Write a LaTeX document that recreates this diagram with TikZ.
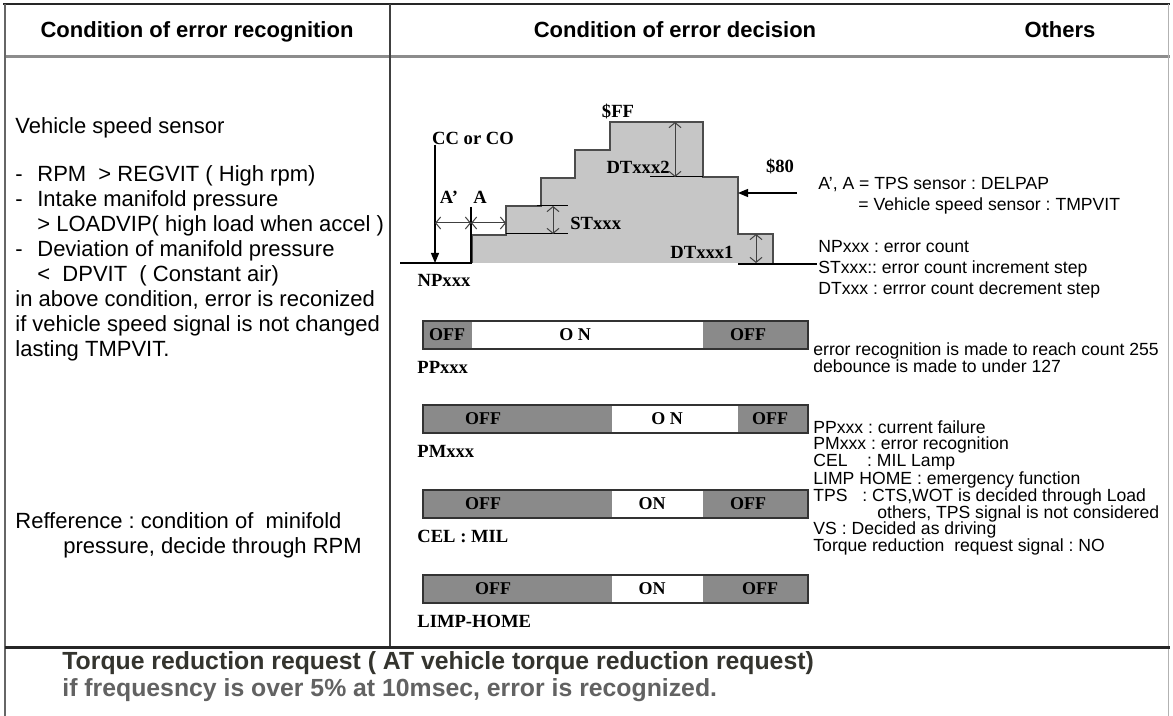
\documentclass[tikz,border=0pt]{standalone}
\usepackage{fontspec}
\setmainfont{Liberation Serif}
\setsansfont{Liberation Sans}
\usepackage{tikz}
\usetikzlibrary{arrows.meta}
\definecolor{BarGray}{RGB}{138,138,138}
\definecolor{StepGray}{RGB}{198,198,198}
\definecolor{FootDark}{RGB}{52,52,46}
\definecolor{FootGray}{RGB}{98,98,98}
\frenchspacing

\tikzset{
  head/.style={inner sep=0pt, text height=1.4ex, text depth=0pt,
    font=\sffamily\bfseries\fontsize{11}{13}\selectfont},
  lefttxt/.style={anchor=west, inner sep=0pt, text height=1.4ex, text depth=0pt,
    font=\sffamily\fontsize{11}{13}\selectfont},
  note/.style={anchor=west, inner sep=0pt, text height=1.4ex, text depth=0pt,
    font=\sffamily\fontsize{8.8}{10}\selectfont},
  foot/.style={anchor=west, inner sep=0pt, text height=1.4ex, text depth=0pt,
    font=\sffamily\bfseries\fontsize{12.4}{14}\selectfont},
  lab/.style={inner sep=0pt, font=\rmfamily\bfseries\fontsize{9.3}{11}\selectfont},
  bartxt/.style={inner sep=0pt, font=\rmfamily\bfseries\fontsize{9}{11}\selectfont},
  barline/.style={draw=black!80, line width=0.8pt},
  stepline/.style={draw=black!70, line width=0.7pt},
  dimline/.style={draw=black!75, line width=0.5pt,
    {Straight Barb[length=2.5pt,width=6pt]}-{Straight Barb[length=2.5pt,width=6pt]}},
  sigarrow/.style={draw=black, line width=0.6pt, -{Triangle[length=5pt,width=4pt]}},
}

\begin{document}
\begin{tikzpicture}[x=0.5pt,y=-0.5pt]
  \useasboundingbox (0,0) rectangle (1173,716);
  \fill[white] (0,0) rectangle (1173,716);

  % table frame
  \draw[line width=1.25pt, black!85] (3,4) -- (1170,4);
  \draw[line width=1.5pt, black!45] (5,57) -- (1170,57);
  \draw[line width=1.25pt, black!60] (5,4) -- (5,716);
  \draw[line width=0.5pt, black!30] (1168,4) -- (1168,716);
  \draw[line width=1pt, black!75] (390,4) -- (390,647);
  \draw[line width=1.5pt, black!85] (5,647) -- (1170,647);

  \node[head] (hRecog) at (197,31) {Condition of error recognition};
  \node[head] (hDecis) at (675,31) {Condition of error decision};
  \node[head] (hOther) at (1060,31) {Others};

  % left column
  \node[lefttxt] (vss) at (15,127) {Vehicle speed sensor};
  \foreach \y/\t [count=\k] in {
      175/{\makebox[11pt][l]{-}RPM \ > REGVIT ( High rpm)},
      200/{\makebox[11pt][l]{-}Intake manifold pressure},
      225/{\hspace*{11pt}> LOADVIP( high load when accel )},
      250/{\makebox[11pt][l]{-}Deviation of manifold pressure},
      275/{\hspace*{11pt}< \ DPVIT \ ( Constant air)},
      300/{in above condition, error is reconized},
      325/{if vehicle speed signal is not changed},
      350/{lasting TMPVIT.}}
    \node[lefttxt] (cond\k) at (15,\y) {\t};
  \node[lefttxt] (ref1) at (15,522) {Refference : condition of \ minifold};
  \node[lefttxt] (ref2) at (63,547) {pressure, decide through RPM};

  % error counter graph
  \fill[StepGray] (472,263) -- (472,235) -- (506,235) -- (506,206) -- (541,206)
    -- (541,178) -- (575,178) -- (575,150) -- (610,150) -- (610,122) -- (703,122)
    -- (703,177) -- (738,177) -- (738,234) -- (773,234) -- (773,263) -- cycle;
  \draw[stepline] (472,263) -- (472,235) -- (506,235) -- (506,206) -- (541,206)
    -- (541,178) -- (575,178) -- (575,150) -- (610,150) -- (610,122) -- (703,122)
    -- (703,177) -- (738,177) -- (738,234) -- (773,234) -- (773,263);

  \coordinate (np0) at (400,263);
  \coordinate (np1) at (472,263);
  \draw[line width=1.25pt] (np0) -- (np1);
  \node[lab] (npx) at (444,280) {NPxxx};

  \node[lab] (ccco) at (473,138) {CC or CO};
  \coordinate (ccEnd) at (435,263);
  \draw[sigarrow] (ccco.south -| ccEnd) -- (ccEnd);

  \coordinate (tickTop) at (471,207);
  \coordinate (tickBot) at (471,263);
  \draw[line width=0.6pt] (tickTop) -- (tickBot);
  \coordinate (aL) at (435,223);
  \coordinate (aM) at (471,223);
  \coordinate (aR) at (506,223);
  \draw[dimline] (aL) -- (aM);
  \draw[dimline] (aM) -- (aR);
  \node[lab] (aprime) at (449,197) {A'};
  \node[lab] (alab) at (480,197) {A};

  \draw[line width=0.5pt] (537,206) -- (568,206);
  \draw[line width=0.5pt] (506,234) -- (568,234);
  \coordinate (stTop) at (553,206);
  \coordinate (stBot) at (553,234);
  \draw[dimline] (stTop) -- (stBot);
  \node[lab, anchor=west] (stx) at (570,223) {STxxx};

  \draw[line width=0.5pt] (650,177) -- (703,177);
  \coordinate (dt2Top) at (675,122);
  \coordinate (dt2Bot) at (675,177);
  \draw[dimline] (dt2Top) -- (dt2Bot);
  \node[lab, anchor=east] (dt2) at (670,167) {DTxxx2};

  \coordinate (dt1Top) at (756,234);
  \coordinate (dt1Bot) at (756,263);
  \draw[dimline] (dt1Top) -- (dt1Bot);
  \node[lab] (dt1) at (702,252) {DTxxx1};

  \node[lab] (ff) at (618,111) {\$FF};
  \node[lab] (h80) at (780,166) {\$80};
  \coordinate (from80) at (797,193);
  \coordinate (to80) at (738,193);
  \draw[sigarrow] (from80) -- (to80);

  \coordinate (baseR) at (738,264);
  \coordinate (noteST) at (817,264);
  \draw[line width=0.6pt] (baseR) -- (noteST);

  % flag bars
  \foreach \i/\y/\a/\b/\on/\xa/\xb/\xc/\sig in {
      1/321/472/703/O N/447/575/748/PPxxx,
      2/405/612/738/O N/483/667/770/PMxxx,
      3/490/612/703/ON/483/652/748/CEL : MIL,
      4/575/612/703/ON/493/652/760/LIMP-HOME}{
    \fill[BarGray] (423,\y) rectangle (\a,\y+28);
    \fill[white] (\a,\y) rectangle (\b,\y+28);
    \fill[BarGray] (\b,\y) rectangle (808,\y+28);
    \draw[barline] (423,\y) rectangle (808,\y+28);
    \node[bartxt] (offA\i) at (\xa,\y+14) {OFF};
    \node[bartxt] (on\i) at (\xb,\y+14) {\on};
    \node[bartxt] (offB\i) at (\xc,\y+14) {OFF};
    \node[lab, anchor=west] (flag\i) at (417,\y+46) {\sig};
  }

  % others column
  \foreach \y/\t [count=\k] in {
      183/{A', A = TPS sensor : DELPAP},
      204/{\hspace*{20pt}= Vehicle speed sensor : TMPVIT},
      246/{NPxxx : error count},
      267/{STxxx:: error count increment step},
      288/{DTxxx : errror count decrement step}}
    \node[note] (cnt\k) at (818,\y) {\t};
  \foreach \y/\t [count=\k] in {
      349/{error recognition is made to reach count 255},
      366/{debounce is made to under 127},
      427/{PPxxx : current failure},
      443/{PMxxx : error recognition},
      460/{CEL \ \ \ : MIL Lamp},
      478/{LIMP HOME : emergency function},
      495/{TPS \ \ : CTS,WOT is decided through Load},
      512/{\hspace*{32pt}others, TPS signal is not considered},
      528/{VS : Decided as driving},
      545/{Torque reduction \ request signal : NO}}
    \node[note] (flg\k) at (813,\y) {\t};

  % bottom remark
  \node[foot, text=FootDark] (tq1) at (62,663) {Torque reduction request ( AT vehicle torque reduction request)};
  \node[foot, text=FootGray] (tq2) at (62,690) {if frequesncy is over 5\% at 10msec, error is recognized.};
\end{tikzpicture}
\end{document}
